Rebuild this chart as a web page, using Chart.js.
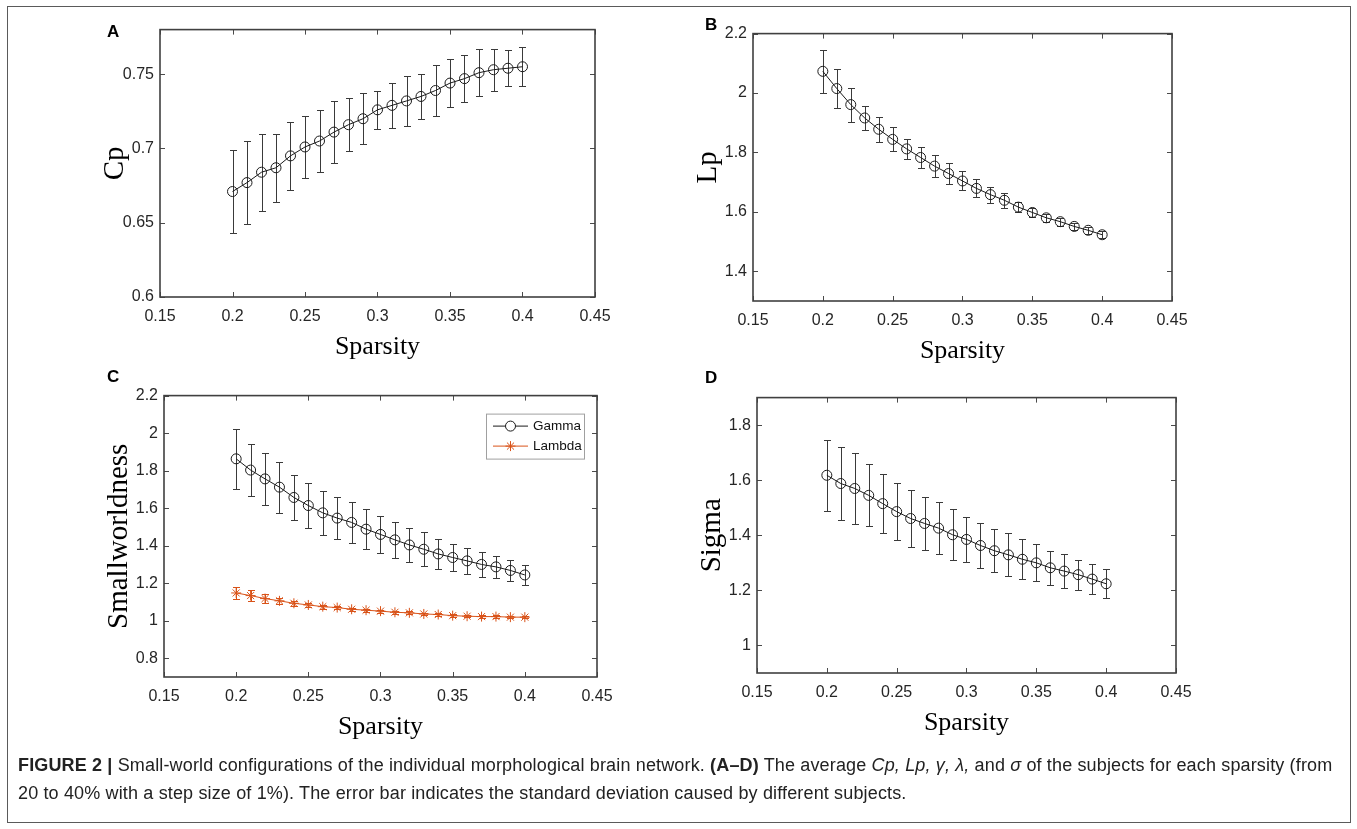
<!DOCTYPE html>
<html>
<head>
<meta charset="utf-8">
<script src="https://cdn.jsdelivr.net/npm/chart.js@4.4.0/dist/chart.umd.min.js"></script>
<style>
html,body{margin:0;padding:0;background:#fff;}
body{width:1357px;height:829px;position:relative;overflow:hidden;font-family:"Liberation Sans",Arial,sans-serif;}
#frame{position:absolute;left:7px;top:6px;width:1344px;height:817px;border:1.5px solid #5a5a5a;box-sizing:border-box;}
canvas.cv{position:absolute;}
.letter{position:absolute;font:bold 17px "Liberation Sans",Arial,sans-serif;color:#000;line-height:17px;}
#caption{position:absolute;left:18px;top:751px;font-size:18px;letter-spacing:0.15px;line-height:28px;color:#222;white-space:nowrap;font-family:"Liberation Sans",Arial,sans-serif;}
</style>
</head>
<body>
<div id="frame"></div>
<canvas id="cA" class="cv"></canvas>
<canvas id="cB" class="cv"></canvas>
<canvas id="cC" class="cv"></canvas>
<canvas id="cD" class="cv"></canvas>
<div class="letter" style="left:107px;top:23px;">A</div>
<div class="letter" style="left:705px;top:16px;">B</div>
<div class="letter" style="left:107px;top:368px;">C</div>
<div class="letter" style="left:705px;top:369px;">D</div>
<div id="caption"><b>FIGURE 2 |</b> Small-world configurations of the individual morphological brain network. <b>(A–D)</b> The average <i>Cp, Lp, γ, λ,</i> and <i>σ</i> of the subjects for each sparsity (from<br>20 to 40% with a step size of 1%). The error bar indicates the standard deviation caused by different subjects.</div>
<script>
// ---------- data ----------
const sparsity = [0.20,0.21,0.22,0.23,0.24,0.25,0.26,0.27,0.28,0.29,0.30,0.31,0.32,0.33,0.34,0.35,0.36,0.37,0.38,0.39,0.40];
const xTicks = [0.15,0.2,0.25,0.3,0.35,0.4,0.45];

const cpMean = [0.671,0.677,0.684,0.687,0.695,0.701,0.705,0.711,0.716,0.720,0.726,0.729,0.732,0.735,0.739,0.744,0.747,0.751,0.753,0.754,0.755];
const cpStd  = [0.028,0.028,0.026,0.023,0.023,0.021,0.021,0.021,0.018,0.017,0.013,0.015,0.017,0.015,0.017,0.016,0.016,0.016,0.014,0.012,0.013];
const cpTicks = [0.6,0.65,0.7,0.75];

const lpMean = [2.073,2.015,1.961,1.916,1.878,1.844,1.812,1.783,1.754,1.729,1.704,1.679,1.658,1.639,1.616,1.598,1.580,1.567,1.551,1.538,1.523];
const lpStd  = [0.072,0.067,0.057,0.042,0.042,0.040,0.034,0.034,0.036,0.035,0.032,0.030,0.027,0.025,0.018,0.015,0.014,0.013,0.013,0.011,0.012];
const lpTicks = [1.4,1.6,1.8,2,2.2];

const gammaMean = [1.863,1.803,1.756,1.712,1.657,1.614,1.575,1.547,1.524,1.488,1.460,1.431,1.404,1.381,1.356,1.337,1.319,1.300,1.287,1.268,1.244];
const gammaStd  = [0.159,0.140,0.138,0.136,0.120,0.120,0.118,0.110,0.110,0.108,0.100,0.097,0.092,0.090,0.082,0.073,0.070,0.067,0.060,0.058,0.054];
const lambdaMean = [1.148,1.134,1.118,1.106,1.093,1.084,1.075,1.070,1.061,1.056,1.051,1.045,1.042,1.036,1.033,1.027,1.024,1.022,1.022,1.019,1.019];
const lambdaStd  = [0.034,0.028,0.024,0.016,0.013,0.011,0.010,0.010,0.009,0.009,0.008,0.008,0.008,0.007,0.007,0.007,0.006,0.006,0.006,0.006,0.006];
const swTicks = [0.8,1,1.2,1.4,1.6,1.8,2,2.2];

const sigmaMean = [1.618,1.588,1.570,1.545,1.515,1.486,1.461,1.443,1.426,1.402,1.385,1.363,1.344,1.329,1.313,1.300,1.282,1.270,1.257,1.241,1.224];
const sigmaStd  = [0.129,0.133,0.130,0.113,0.106,0.104,0.104,0.097,0.094,0.092,0.083,0.082,0.079,0.078,0.073,0.067,0.062,0.061,0.055,0.053,0.052];
const sigmaTicks = [1,1.2,1.4,1.6,1.8];

// ---------- styling ----------
const TICK_FONT = '"Liberation Sans",Arial,sans-serif';
const SERIF = '"Liberation Serif","Times New Roman",serif';
const BLACK = '#1a1a1a';
const ORANGE = '#d95319';
const Y_W = 100, X_H = 80, PAD_T = 14, PAD_R = 40;

const errorBarPlugin = {
  id: 'errorBars',
  beforeDatasetsDraw(chart) {
    const ctx = chart.ctx, xs = chart.scales.x, ys = chart.scales.y;
    chart.data.datasets.forEach(ds => {
      if (!ds.errorBars) return;
      ctx.save();
      ctx.strokeStyle = ds.errorColor;
      ctx.lineWidth = 1;
      ds.data.forEach((p, i) => {
        const e = ds.errorBars[i];
        const x = Math.round(xs.getPixelForValue(p.x)) + 0.5;
        const y1 = Math.round(ys.getPixelForValue(p.y + e)) + 0.5;
        const y2 = Math.round(ys.getPixelForValue(p.y - e)) + 0.5;
        ctx.beginPath();
        ctx.moveTo(x, y1); ctx.lineTo(x, y2);
        ctx.moveTo(x - 3.5, y1); ctx.lineTo(x + 3.5, y1);
        ctx.moveTo(x - 3.5, y2); ctx.lineTo(x + 3.5, y2);
        ctx.stroke();
      });
      ctx.restore();
    });
  }
};

const boxPlugin = {
  id: 'matlabBox',
  afterDraw(chart) {
    const ctx = chart.ctx, a = chart.chartArea, xs = chart.scales.x, ys = chart.scales.y;
    ctx.save();
    ctx.strokeStyle = '#4a4a4a';
    ctx.lineWidth = 1;
    const L = 5;
    ctx.beginPath();
    xs.ticks.forEach(t => {
      const x = Math.round(xs.getPixelForValue(t.value)) + 0.5;
      ctx.moveTo(x, a.bottom); ctx.lineTo(x, a.bottom - L);
      ctx.moveTo(x, a.top); ctx.lineTo(x, a.top + L);
    });
    ys.ticks.forEach(t => {
      const y = Math.round(ys.getPixelForValue(t.value)) + 0.5;
      ctx.moveTo(a.left, y); ctx.lineTo(a.left + L, y);
      ctx.moveTo(a.right, y); ctx.lineTo(a.right - L, y);
    });
    ctx.stroke();
    ctx.lineWidth = 1.6;
    ctx.strokeStyle = '#404040';
    ctx.strokeRect(a.left, a.top, a.right - a.left, a.bottom - a.top);
    ctx.restore();
  }
};

const boxLegendPlugin = {
  id: 'boxLegend',
  afterDraw(chart, args, opts) {
    if (!opts || !opts.display) return;
    const ctx = chart.ctx, a = chart.chartArea;
    const w = 98, h = 45;
    const bx = a.right - opts.right - w, by = a.top + opts.top;
    ctx.save();
    ctx.fillStyle = '#fff';
    ctx.fillRect(bx, by, w, h);
    ctx.strokeStyle = '#a0a0a0';
    ctx.lineWidth = 1;
    ctx.strokeRect(bx + 0.5, by + 0.5, w, h);
    chart.data.datasets.forEach((ds, i) => {
      const y = by + 12.5 + i * 20;
      ctx.strokeStyle = ds.borderColor;
      ctx.lineWidth = 1;
      ctx.beginPath(); ctx.moveTo(bx + 7, y); ctx.lineTo(bx + 42, y); ctx.stroke();
      Chart.helpers.drawPoint(ctx, {pointStyle: ds.pointStyle, radius: 5, borderWidth: 1}, bx + 24.5, y);
      ctx.fillStyle = '#111';
      ctx.font = '13.5px ' + TICK_FONT;
      ctx.textBaseline = 'middle';
      ctx.textAlign = 'left';
      ctx.fillText(ds.label, bx + 47, y);
    });
    ctx.restore();
  }
};

function series(label, ys, errs, color, style) {
  return {
    label: label,
    data: sparsity.map((x, i) => ({x: x, y: ys[i]})),
    errorBars: errs,
    errorColor: color === ORANGE ? ORANGE : '#3a3a3a',
    borderColor: color,
    borderWidth: 1,
    pointStyle: style,
    pointRadius: 5,
    pointBorderWidth: 1,
    pointBorderColor: color,
    pointBackgroundColor: 'rgba(0,0,0,0)',
    backgroundColor: 'rgba(0,0,0,0)',
    tension: 0,
    fill: false
  };
}

function makePanel(id, area, datasets, yMin, yMax, yTicks, yTitle, legend) {
  const cv = document.getElementById(id);
  const W = (area.R - area.L) + Y_W + PAD_R;
  const H = (area.B - area.T) + PAD_T + X_H;
  cv.width = W; cv.height = H;
  cv.style.left = (area.L - Y_W) + 'px';
  cv.style.top = (area.T - PAD_T) + 'px';
  cv.style.width = W + 'px'; cv.style.height = H + 'px';
  new Chart(cv, {
    type: 'line',
    data: {datasets: datasets},
    plugins: [errorBarPlugin, boxPlugin, boxLegendPlugin],
    options: {
      responsive: false,
      animation: false,
      devicePixelRatio: 1,
      layout: {padding: {left: 0, top: PAD_T, right: PAD_R, bottom: 0}},
      plugins: {
        legend: {display: false},
        tooltip: {enabled: false},
        boxLegend: legend || {display: false}
      },
      scales: {
        x: {
          type: 'linear', min: 0.15, max: 0.45,
          afterBuildTicks: s => { s.ticks = xTicks.map(v => ({value: v})); },
          afterFit: s => { s.height = X_H; },
          grid: {display: false, drawTicks: false},
          border: {display: false},
          ticks: {padding: 10, color: '#262626', font: {family: TICK_FONT, size: 16}, callback: v => String(v), maxRotation: 0},
          title: {display: true, text: 'Sparsity', color: '#000', font: {family: SERIF, size: 26}, padding: {top: 0, bottom: 14}}
        },
        y: {
          type: 'linear', min: yMin, max: yMax,
          afterBuildTicks: s => { s.ticks = yTicks.map(v => ({value: v})); },
          afterFit: s => { s.width = Y_W; },
          grid: {display: false, drawTicks: false},
          border: {display: false},
          ticks: {padding: 6, color: '#262626', font: {family: TICK_FONT, size: 16}, callback: v => String(v)},
          title: {display: true, text: yTitle, color: '#000', font: {family: SERIF, size: 29}, padding: {top: 38, bottom: 0}}
        }
      }
    }
  });
}

makePanel('cA', {L:160, R:595, T:28, B:297}, [series('Cp', cpMean, cpStd, BLACK, 'circle')], 0.6, 0.78, cpTicks, 'Cp');
makePanel('cB', {L:753, R:1172, T:32, B:301}, [series('Lp', lpMean, lpStd, BLACK, 'circle')], 1.3, 2.2, lpTicks, 'Lp');
makePanel('cC', {L:164, R:597, T:394, B:677}, [series('Gamma', gammaMean, gammaStd, BLACK, 'circle'), series('Lambda', lambdaMean, lambdaStd, ORANGE, 'star')], 0.7, 2.2, swTicks, 'Smallworldness', {display: true, right: 13, top: 18});
makePanel('cD', {L:757, R:1176, T:396, B:673}, [series('Sigma', sigmaMean, sigmaStd, BLACK, 'circle')], 0.9, 1.9, sigmaTicks, 'Sigma');
</script>
</body>
</html>
